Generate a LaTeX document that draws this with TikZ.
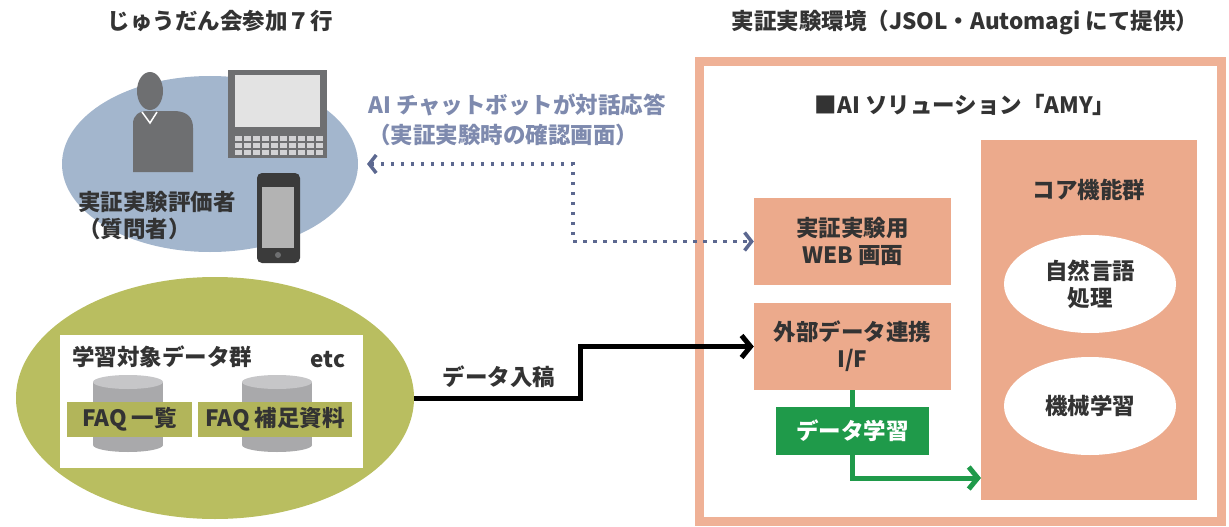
\documentclass[tikz,border=0pt]{standalone}
\usepackage{fontspec}
\setmainfont{Noto Sans CJK JP}
\usepackage{tikz}
\usetikzlibrary{arrows.meta,shapes.geometric}

\definecolor{evalblue}{HTML}{A3B6CD}
\definecolor{dataolive}{HTML}{B9BE60}
\definecolor{faqolive}{HTML}{B2B55A}
\definecolor{framesalmon}{HTML}{EFB196}
\definecolor{boxsalmon}{HTML}{ECAA8C}
\definecolor{learngreen}{HTML}{1F9A4A}
\definecolor{chatblue}{HTML}{7E8AAE}
\definecolor{chatdots}{HTML}{5C6890}
\definecolor{textdark}{HTML}{333333}
\definecolor{devicegray}{HTML}{6E6F71}
\definecolor{screenlight}{HTML}{E3E3E3}
\definecolor{keylight}{HTML}{D2D2D4}
\definecolor{phonedark}{HTML}{3B3B3B}
\definecolor{phonescreen}{HTML}{B3B3B3}
\definecolor{cylbody}{HTML}{A9A9AB}
\definecolor{cyltop}{HTML}{C6C6C8}

\begin{document}
\begin{tikzpicture}[x=1pt,y=-1pt,
  lbl/.style={font=\fontsize{22.5}{27}\selectfont\bfseries,text=textdark,inner sep=0pt,align=center},
  salmonbox/.style={lbl,fill=boxsalmon,minimum width=197pt,minimum height=87pt},
  oval/.style={ellipse,inner sep=0pt},
  whiteoval/.style={oval,lbl,fill=white,minimum width=172pt,minimum height=98pt},
  faqtag/.style={lbl,fill=faqolive,minimum height=35pt},
  chatline/.style={chatdots,line width=3.5pt,dash pattern=on 3.5pt off 6.5pt,>={Straight Barb[length=7pt,width=18pt]},<->},
  feedline/.style={black,line width=5pt,>={Straight Barb[length=9pt,width=22pt]},->},
  learnline/.style={learngreen,line width=5pt,>={Straight Barb[length=9pt,width=22pt]}}]
   \useasboundingbox (0,0) rectangle (1229,527);
   \draw[framesalmon,line width=9pt] (699.5,61.5) rectangle (1221.5,521.5);

   \draw (220,21) node[lbl] (bankstitle) {じゅうだん会参加７行};
   \draw (965,22) node[lbl] (envtitle) {実証実験環境（JSOL・Automagi にて提供）};
   \draw (965,105) node[lbl] (amytitle) {■AI ソリューション「AMY」};

   % evaluator side
   \draw (210,164) node[oval,fill=evalblue,minimum width=296pt,minimum height=176pt] (evalzone) {};
   \fill[devicegray] (150,91) ellipse [x radius=13,y radius=19];
   \fill[devicegray] (133,172) -- (133,124) .. controls (133,115) and (139,111) .. (148,111) -- (176,111) .. controls (188,112) and (193,118) .. (193,128) -- (193,172) -- cycle;
   \draw[white,line width=1.5pt] (142,112) -- (150,123) -- (157,112);
   \fill[devicegray] (228,70) rectangle (327,158);
   \fill[screenlight] (235,75) rectangle (320,127);
   \foreach \c in {0,...,9}
     \foreach \r in {0,1,2}
       \fill[keylight] (235+\c*9,136+\r*7) rectangle +(6.5,4.5);
   \fill[phonedark,rounded corners=5pt] (257,173) rectangle (300,263);
   \fill[phonescreen] (262,187) rectangle (294,248);
   \fill[devicegray] (278,255) circle (3);
   \draw (78,216) node[lbl,anchor=west,align=left] (evaluator) {実証実験評価者\\（質問者）};
   \draw (368,120) node[lbl,anchor=west,align=left,text=chatblue,font=\fontsize{22.5}{30}\selectfont\bfseries] (chatnote) {AI チャットボットが対話応答\\（実証実験時の確認画面）};

   % learning data
   \draw (215,398) node[oval,fill=dataolive,minimum width=398pt,minimum height=242pt] (dataset) {};
   \draw (211.5,401.5) node[fill=white,minimum width=303pt,minimum height=133pt] (datapanel) {};
   \draw (72,357) node[lbl,anchor=west] (datalabel) {学習対象データ群};
   \draw (328,360) node[lbl] (etc) {etc};
   \foreach \cx in {128,277} {
     \fill[cylbody] (\cx-35,382) rectangle (\cx+35,445);
     \fill[cylbody] (\cx,445) ellipse [x radius=35,y radius=7];
     \fill[cyltop] (\cx,382) ellipse [x radius=35,y radius=7];
   }
   \draw (129.5,419.5) node[faqtag,minimum width=125pt] (faqlist) {FAQ 一覧};
   \draw (275,419.5) node[faqtag,minimum width=154pt] (faqextra) {FAQ 補足資料};

   % AMY
   \draw (852.5,241.5) node[salmonbox] (webbox) {実証実験用\\WEB 画面};
   \draw (852.5,346.5) node[salmonbox] (ifbox) {外部データ連携\\I/F};
   \draw (852.5,431) node[lbl,fill=learngreen,text=white,minimum width=153pt,minimum height=48pt] (learnbox) {データ学習};
   \draw (1089,320) node[fill=boxsalmon,minimum width=216pt,minimum height=360pt] (corebox) {};
   \draw (1089,190) node[lbl] (corelabel) {コア機能群};
   \draw (1090,284) node[whiteoval] (nlpoval) {自然言語\\処理};
   \draw (1090,406) node[whiteoval] (mloval) {機械学習};

   \coordinate (chatend) at (367,164);
   \coordinate (chatcorner) at (573,164);
   \draw[chatline] (chatend) -- (chatcorner) |- (webbox.west);
   \coordinate (feedcorner) at (580,398);
   \draw[feedline] (dataset.east) -- (feedcorner) |- (ifbox.west);
   \draw (499,377) node[lbl] (feedlabel) {データ入稿};
   \draw[learnline] (ifbox.south) -- (learnbox.north);
   \coordinate (coreentry) at (981,478);
   \draw[learnline,->] (learnbox.south) |- (coreentry);
\end{tikzpicture}
\end{document}
